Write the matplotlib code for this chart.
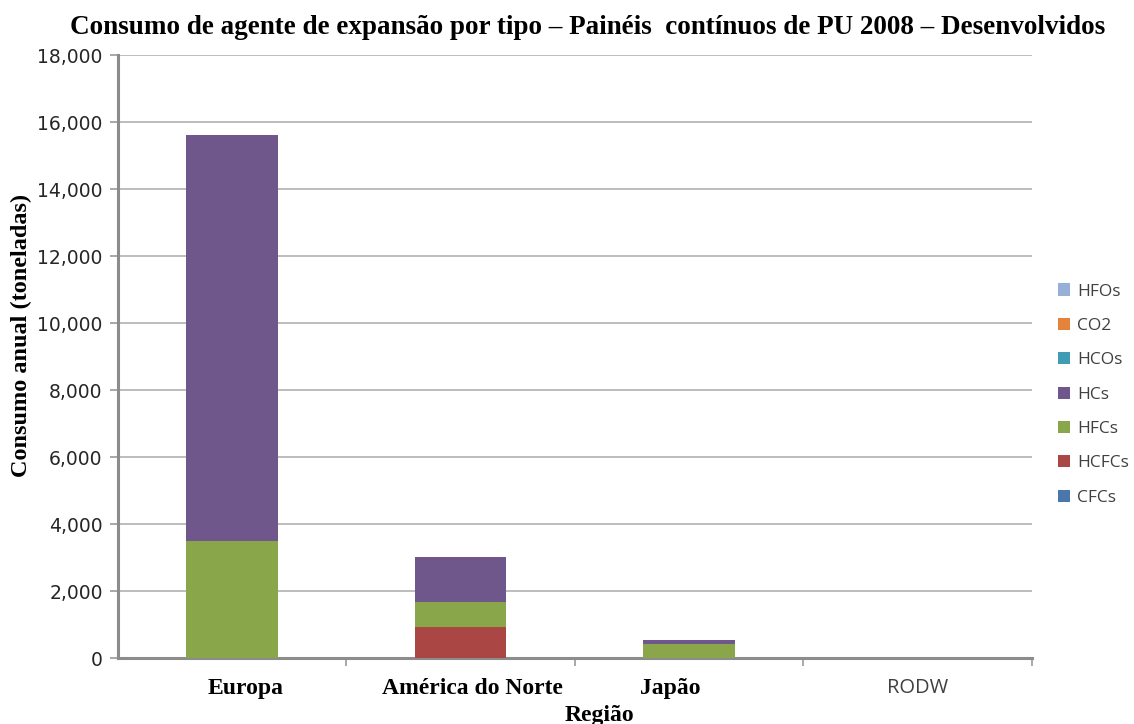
import matplotlib

matplotlib.use("Agg")
import matplotlib.pyplot as plt
import numpy as np

REGIONS = ["Europa", "América do Norte", "Japão", "RODW"]
SERIES = ["CFCs", "HCFCs", "HFCs", "HCs", "HCOs", "CO2", "HFOs"]
VALUES = {
    "CFCs": [0, 0, 0, 0],
    "HCFCs": [0, 935, 0, 0],
    "HFCs": [3500, 745, 410, 0],
    "HCs": [12100, 1350, 130, 0],
    "HCOs": [0, 0, 0, 0],
    "CO2": [0, 0, 0, 0],
    "HFOs": [0, 0, 0, 0],
}
COLORS = {
    "CFCs": "#4A76AC",
    "HCFCs": "#AA4744",
    "HFCs": "#8AA64B",
    "HCs": "#6F578B",
    "HCOs": "#3F9CB2",
    "CO2": "#E5833A",
    "HFOs": "#97AFD6",
}
YTICKS = np.arange(0, 18001, 2000)

SERIF = ["Liberation Serif", "DejaVu Serif"]
SANS = ["Open Sans", "DejaVu Sans"]

fig = plt.figure(figsize=(11.34, 7.24), dpi=100)
ax = fig.add_axes([0.104, 0.091, 0.806, 0.833])

x = np.arange(len(REGIONS))
bottom = np.zeros(len(REGIONS))
handles = {}
for name in SERIES:
    vals = np.array(VALUES[name], dtype=float)
    handles[name] = ax.bar(x, vals, width=0.4, bottom=bottom, color=COLORS[name],
                           label=name, zorder=3)
    bottom += vals

ax.set_xlim(-0.5, 3.5)
ax.set_ylim(0, 18000)
ax.set_yticks(YTICKS)
ax.set_yticklabels([f"{v:,}" for v in YTICKS])
for t in ax.get_yticklabels():
    t.set_fontfamily("DejaVu Sans")
    t.set_fontsize(13.5)
    t.set_color("#262626")
ax.yaxis.grid(True, color="#BDBDBD", linewidth=1.4, zorder=0)
ax.set_axisbelow(True)

ax.set_xticks(x)
ax.set_xticklabels([])
ax.set_xticks([0.5, 1.5, 2.5, 3.5], minor=True)
ax.tick_params(axis="x", which="major", length=0)
ax.tick_params(axis="x", which="minor", length=6, width=1.2, color="#9A9A9A")
ax.tick_params(axis="y", length=6, width=1.2, color="#9A9A9A", pad=5)

label_shift = [0.057, 0.053, -0.083, 0.0]
for i, name in enumerate(REGIONS):
    if name == "RODW":
        ax.text(i + label_shift[i], -0.05, name, transform=ax.get_xaxis_transform(),
                ha="center", va="center", fontsize=14.5, family=SANS, color="#404040")
    else:
        ax.text(i + label_shift[i], -0.05, name,
                transform=ax.get_xaxis_transform(),
                ha="center", va="center", fontsize=17, family=SERIF, fontweight="bold")

for side in ["top", "right"]:
    ax.spines[side].set_visible(False)
for side in ["left", "bottom"]:
    ax.spines[side].set_color("#8C8C8C")
    ax.spines[side].set_linewidth(2.2)

fig.text(0.529, 0.012, "Região", ha="center", va="center", fontsize=17,
         family=SERIF, fontweight="bold")
fig.text(0.019, 0.537, "Consumo anual (toneladas)", rotation=90, ha="center",
         va="center", fontsize=17.5, family=SERIF, fontweight="bold")
fig.text(0.518, 0.962, "Consumo de agente de expansão por tipo – Painéis  contínuos de PU 2008 – Desenvolvidos",
         ha="center", va="center", fontsize=19.5, family=SERIF, fontweight="bold")

leg = fig.legend([handles[n] for n in SERIES[::-1]], SERIES[::-1],
                 loc="center left", bbox_to_anchor=(0.924, 0.455), frameon=False,
                 prop={"family": SANS, "size": 12.5}, handlelength=0.7,
                 handleheight=0.7, handletextpad=0.4, labelspacing=1.05,
                 borderaxespad=0.2)
for t in leg.get_texts():
    t.set_color("#404040")

fig.savefig("out.png", dpi=100)
